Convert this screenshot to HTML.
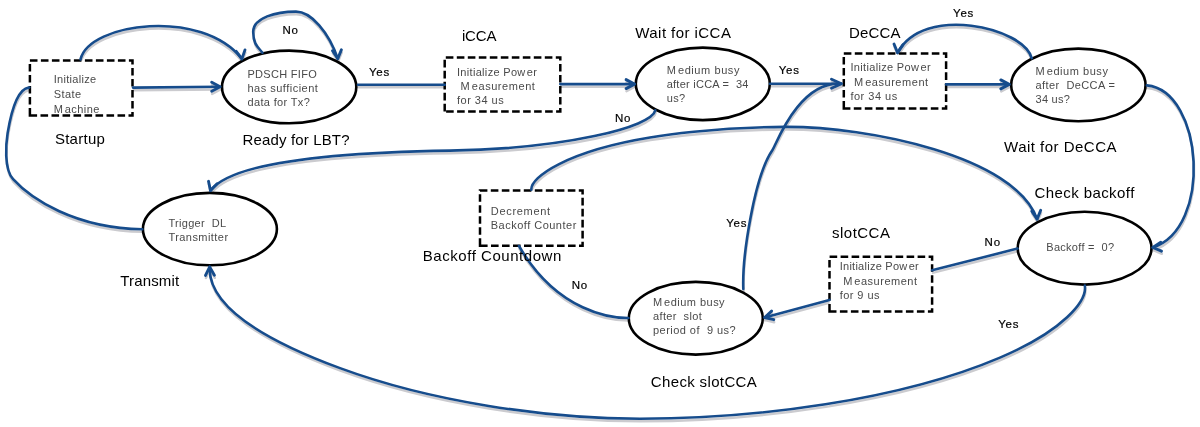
<!DOCTYPE html>
<html><head><meta charset="utf-8"><style>
html,body{margin:0;padding:0;background:#fff;width:1200px;height:427px;overflow:hidden}
svg{display:block}
text{font-family:"Liberation Sans",sans-serif;white-space:pre}
</style></head><body>
<svg width="1200" height="427" viewBox="0 0 1200 427">
<defs><filter id="bl" x="-5%" y="-5%" width="110%" height="110%"><feGaussianBlur stdDeviation="0.6"/></filter><filter id="gs" x="0" y="0" width="100%" height="100%"><feColorMatrix type="saturate" values="0"/></filter></defs>
<rect width="1200" height="427" fill="#fff"/>

<g fill="none" stroke="#cbcbcf" stroke-width="2.5" stroke-linecap="round" stroke-linejoin="round" transform="translate(0.4,2.6)" filter="url(#bl)">
<path d="M80.5,59.4 C89.1,22.5 202.1,8.1 241.9,58.9"/>
<path d="M236.2,51.3 L241.9,58.9 L245.0,49.9"/>
<path d="M133,87.6 L220,86.8"/>
<path d="M211.7,91.3 L220.1,86.8 L211.7,82.3"/>
<path d="M262.4,52.6 C258.4,47.4 253.4,45 253.2,32 C253,17.5 276.5,11.6 296,11.6 C311.2,11.6 328.8,32.4 337.8,58.6"/>
<path d="M332.5,50.7 L337.8,58.6 L341.4,49.8"/>
<path d="M358,84.7 L444.7,84.7"/>
<path d="M560.3,84.1 L634.5,84.1"/>
<path d="M626.1,88.6 L634.5,84.1 L626.1,79.6"/>
<path d="M770,83.7 L841,83.7"/>
<path d="M946.1,84.4 L1009.2,84.4"/>
<path d="M1000.8,88.9 L1009.2,84.4 L1000.8,79.9"/>
<path d="M1031.7,58.2 C1023.6,27.3 923.3,4.2 897.6,52.8"/>
<path d="M894.0,44.0 L897.6,52.8 L902.9,44.9"/>
<path d="M1146.9,85.4 C1203.9,91.2 1212.4,228.8 1152.8,247.5"/>
<path d="M1160.8,242.3 L1152.8,247.5 L1161.5,251.2"/>
<path d="M531.3,189.6 C530.6,177.2 566.6,151.2 650,137.5 C658.9,136 713.4,127.3 785,126.9 C868,126.5 1015.2,156.3 1037.1,219.1"/>
<path d="M1031.8,211.2 L1037.1,219.1 L1040.7,210.3"/>
<path d="M1017.5,248.6 L932.1,270.3"/>
<path d="M829.5,299.9 L764.6,317.5"/>
<path d="M771.6,311.1 L764.6,317.5 L773.8,319.7"/>
<path d="M743.3,289 C742.1,256.1 754.4,176 772.5,150 C775.8,145.3 798.8,80.9 841,83.7"/>
<path d="M831.5,88.2 L841.5,83.7 L831.5,79.2"/>
<path d="M628.4,318 C613.3,318.1 557.9,313.3 519,246"/>
<path d="M1084.8,285.5 C1087.5,300.9 1063.2,330.7 1000,357.6 C899,400.6 755.5,418.7 640,418.7 C545.8,418.7 430.5,401.5 340,368.1 C263.2,339.7 208,306.3 209.7,266.9"/>
<path d="M214.4,275.2 L209.7,266.9 L205.5,275.4"/>
<path d="M655.3,110.3 C652.3,127.1 564.5,148.8 450,150.6 C347.8,152.2 233.5,160 210.5,190.6"/>
<path d="M208.5,181.3 L210.5,190.6 L217.1,183.8"/>
<path d="M142.3,229.2 C74.5,228.4 30.3,198.2 13.1,179.2 C3.6,168.7 6.1,142.4 7.6,133.2 C15.4,85.8 27.4,88.1 29.3,87.5"/>
</g>
<ellipse cx="289.15" cy="86.95" rx="67.15" ry="36.35" fill="#fff" stroke="#000" stroke-width="2.6"/>
<ellipse cx="702.8" cy="83.85" rx="67.0" ry="36.25" fill="#fff" stroke="#000" stroke-width="2.6"/>
<ellipse cx="1078.35" cy="84.95" rx="67.2" ry="36.35" fill="#fff" stroke="#000" stroke-width="2.6"/>
<ellipse cx="1084.6" cy="248.2" rx="66.9" ry="36.4" fill="#fff" stroke="#000" stroke-width="2.6"/>
<ellipse cx="695.8" cy="318.25" rx="67.0" ry="36.35" fill="#fff" stroke="#000" stroke-width="2.6"/>
<ellipse cx="209.9" cy="229.1" rx="67.0" ry="36.2" fill="#fff" stroke="#000" stroke-width="2.6"/>
<path d="M29.9,115.5 V60.5 H132.5 V115.5 Z" fill="#fff" stroke="#000" stroke-width="2.5" stroke-dasharray="7.6 3.4" stroke-dashoffset="0"/>
<path d="M444.7,111.4 V57.5 H560.3 V111.4 Z" fill="#fff" stroke="#000" stroke-width="2.5" stroke-dasharray="7.6 3.4" stroke-dashoffset="0"/>
<path d="M843.8,108.6 V53.6 H946.1 V108.6 Z" fill="#fff" stroke="#000" stroke-width="2.5" stroke-dasharray="7.6 3.4" stroke-dashoffset="0"/>
<path d="M829.5,311.6 V256.7 H932.1 V311.6 Z" fill="#fff" stroke="#000" stroke-width="2.5" stroke-dasharray="7.6 3.4" stroke-dashoffset="0"/>
<path d="M480.0,245.8 V190.6 H582.6 V245.8 Z" fill="#fff" stroke="#000" stroke-width="2.5" stroke-dasharray="7.6 3.4" stroke-dashoffset="0"/>
<g fill="none" stroke="#164c8c" stroke-width="2.6" stroke-linecap="round" stroke-linejoin="round">
<path d="M80.5,59.4 C89.1,22.5 202.1,8.1 241.9,58.9"/>
<path d="M236.2,51.3 L241.9,58.9 L245.0,49.9" stroke-width="2.9"/>
<path d="M133,87.6 L220,86.8"/>
<path d="M211.7,91.3 L220.1,86.8 L211.7,82.3" stroke-width="2.9"/>
<path d="M262.4,52.6 C258.4,47.4 253.4,45 253.2,32 C253,17.5 276.5,11.6 296,11.6 C311.2,11.6 328.8,32.4 337.8,58.6"/>
<path d="M332.5,50.7 L337.8,58.6 L341.4,49.8" stroke-width="2.9"/>
<path d="M358,84.7 L444.7,84.7"/>
<path d="M560.3,84.1 L634.5,84.1"/>
<path d="M626.1,88.6 L634.5,84.1 L626.1,79.6" stroke-width="2.9"/>
<path d="M770,83.7 L841,83.7"/>
<path d="M946.1,84.4 L1009.2,84.4"/>
<path d="M1000.8,88.9 L1009.2,84.4 L1000.8,79.9" stroke-width="2.9"/>
<path d="M1031.7,58.2 C1023.6,27.3 923.3,4.2 897.6,52.8"/>
<path d="M894.0,44.0 L897.6,52.8 L902.9,44.9" stroke-width="2.9"/>
<path d="M1146.9,85.4 C1203.9,91.2 1212.4,228.8 1152.8,247.5"/>
<path d="M1160.8,242.3 L1152.8,247.5 L1161.5,251.2" stroke-width="2.9"/>
<path d="M531.3,189.6 C530.6,177.2 566.6,151.2 650,137.5 C658.9,136 713.4,127.3 785,126.9 C868,126.5 1015.2,156.3 1037.1,219.1"/>
<path d="M1031.8,211.2 L1037.1,219.1 L1040.7,210.3" stroke-width="2.9"/>
<path d="M1017.5,248.6 L932.1,270.3"/>
<path d="M829.5,299.9 L764.6,317.5"/>
<path d="M771.6,311.1 L764.6,317.5 L773.8,319.7" stroke-width="2.9"/>
<path d="M743.3,289 C742.1,256.1 754.4,176 772.5,150 C775.8,145.3 798.8,80.9 841,83.7"/>
<path d="M831.5,88.2 L841.5,83.7 L831.5,79.2" stroke-width="2.9"/>
<path d="M628.4,318 C613.3,318.1 557.9,313.3 519,246"/>
<path d="M1084.8,285.5 C1087.5,300.9 1063.2,330.7 1000,357.6 C899,400.6 755.5,418.7 640,418.7 C545.8,418.7 430.5,401.5 340,368.1 C263.2,339.7 208,306.3 209.7,266.9"/>
<path d="M214.4,275.2 L209.7,266.9 L205.5,275.4" stroke-width="2.9"/>
<path d="M655.3,110.3 C652.3,127.1 564.5,148.8 450,150.6 C347.8,152.2 233.5,160 210.5,190.6"/>
<path d="M208.5,181.3 L210.5,190.6 L217.1,183.8" stroke-width="2.9"/>
<path d="M142.3,229.2 C74.5,228.4 30.3,198.2 13.1,179.2 C3.6,168.7 6.1,142.4 7.6,133.2 C15.4,85.8 27.4,88.1 29.3,87.5"/>
</g>
<g filter="url(#gs)">
<text x="54.9" y="143.8" font-size="15" fill="#000" textLength="50" lengthAdjust="spacing">Startup</text>
<text x="242.5" y="145" font-size="15" fill="#000" textLength="107" lengthAdjust="spacing">Ready for LBT?</text>
<text x="461.9" y="40.9" font-size="15" fill="#000" textLength="34.5" lengthAdjust="spacing">iCCA</text>
<text x="635.3" y="37.6" font-size="15" fill="#000" textLength="95.6" lengthAdjust="spacing">Wait for iCCA</text>
<text x="849.1" y="37.8" font-size="15" fill="#000" textLength="51.5" lengthAdjust="spacing">DeCCA</text>
<text x="1004.1" y="152.3" font-size="15" fill="#000" textLength="112.4" lengthAdjust="spacing">Wait for DeCCA</text>
<text x="1034.4" y="197.7" font-size="15" fill="#000" textLength="99.9" lengthAdjust="spacing">Check backoff</text>
<text x="832.1" y="237.6" font-size="15" fill="#000" textLength="57.8" lengthAdjust="spacing">slotCCA</text>
<text x="422.8" y="260.6" font-size="15" fill="#000" textLength="138.5" lengthAdjust="spacing">Backoff Countdown</text>
<text x="120.2" y="286.1" font-size="15" fill="#000" textLength="59" lengthAdjust="spacing">Transmit</text>
<text x="650.8" y="386.8" font-size="15" fill="#000" textLength="106" lengthAdjust="spacing">Check slotCCA</text>
<text x="282.4" y="33.9" font-size="11.5" letter-spacing="0.8" fill="#000" stroke="#000" stroke-width="0.2">No</text>
<text x="368.9" y="75.9" font-size="11.5" letter-spacing="0.8" fill="#000" stroke="#000" stroke-width="0.2">Yes</text>
<text x="778.7" y="74.0" font-size="11.5" letter-spacing="0.8" fill="#000" stroke="#000" stroke-width="0.2">Yes</text>
<text x="953.0" y="16.8" font-size="11.5" letter-spacing="0.8" fill="#000" stroke="#000" stroke-width="0.2">Yes</text>
<text x="615.0" y="122.1" font-size="11.5" letter-spacing="0.8" fill="#000" stroke="#000" stroke-width="0.2">No</text>
<text x="984.6" y="245.7" font-size="11.5" letter-spacing="0.8" fill="#000" stroke="#000" stroke-width="0.2">No</text>
<text x="998.2" y="328.4" font-size="11.5" letter-spacing="0.8" fill="#000" stroke="#000" stroke-width="0.2">Yes</text>
<text x="571.7" y="289.2" font-size="11.5" letter-spacing="0.8" fill="#000" stroke="#000" stroke-width="0.2">No</text>
<text x="726.2" y="227.2" font-size="11.5" letter-spacing="0.8" fill="#000" stroke="#000" stroke-width="0.2">Yes</text>
<text x="53.7" y="83.3" font-size="11" fill="#4a4a4a" textLength="42.4" lengthAdjust="spacing">Initialize</text>
<text x="53.7" y="98.0" font-size="11" fill="#4a4a4a" textLength="27.4" lengthAdjust="spacing">State</text>
<text x="53.7" y="112.5" font-size="11" fill="#4a4a4a" textLength="45.7" lengthAdjust="spacing">M achine</text>
<text x="247.5" y="77.5" font-size="11" fill="#4a4a4a" textLength="69.2" lengthAdjust="spacing">PDSCH FIFO</text>
<text x="247.5" y="91.9" font-size="11" fill="#4a4a4a" textLength="70.4" lengthAdjust="spacing">has sufficient</text>
<text x="247.5" y="106.1" font-size="11" fill="#4a4a4a" textLength="62.3" lengthAdjust="spacing">data for Tx?</text>
<text x="457.0" y="75.6" font-size="11" fill="#4a4a4a" textLength="79.9" lengthAdjust="spacing">Initialize Pow er</text>
<text x="457.0" y="89.5" font-size="11" fill="#4a4a4a" textLength="77.9" lengthAdjust="spacing"> M easurement</text>
<text x="457.0" y="103.9" font-size="11" fill="#4a4a4a" textLength="46.7" lengthAdjust="spacing">for 34 us</text>
<text x="666.7" y="73.5" font-size="11" fill="#4a4a4a" textLength="72.7" lengthAdjust="spacing">M edium busy</text>
<text x="666.7" y="87.5" font-size="11" fill="#4a4a4a" textLength="81.7" lengthAdjust="spacing">after iCCA =  34</text>
<text x="666.7" y="101.6" font-size="11" fill="#4a4a4a" textLength="18.5" lengthAdjust="spacing">us?</text>
<text x="850.4" y="71.3" font-size="11" fill="#4a4a4a" textLength="80.2" lengthAdjust="spacing">Initialize Pow er</text>
<text x="850.4" y="85.5" font-size="11" fill="#4a4a4a" textLength="77.7" lengthAdjust="spacing"> M easurement</text>
<text x="850.4" y="99.8" font-size="11" fill="#4a4a4a" textLength="46.8" lengthAdjust="spacing">for 34 us</text>
<text x="1035.6" y="74.6" font-size="11" fill="#4a4a4a" textLength="72.3" lengthAdjust="spacing">M edium busy</text>
<text x="1035.6" y="88.7" font-size="11" fill="#4a4a4a" textLength="79.3" lengthAdjust="spacing">after  DeCCA =</text>
<text x="1035.6" y="103.1" font-size="11" fill="#4a4a4a" textLength="34.2" lengthAdjust="spacing">34 us?</text>
<text x="1046.3" y="250.7" font-size="11" fill="#4a4a4a" textLength="67.7" lengthAdjust="spacing">Backoff =  0?</text>
<text x="839.7" y="270.0" font-size="11" fill="#4a4a4a" textLength="79.0" lengthAdjust="spacing">Initialize Pow er</text>
<text x="839.7" y="284.9" font-size="11" fill="#4a4a4a" textLength="77.3" lengthAdjust="spacing"> M easurement</text>
<text x="839.7" y="299.2" font-size="11" fill="#4a4a4a" textLength="39.8" lengthAdjust="spacing">for 9 us</text>
<text x="653.0" y="305.5" font-size="11" fill="#4a4a4a" textLength="71.6" lengthAdjust="spacing">M edium busy</text>
<text x="653.0" y="319.9" font-size="11" fill="#4a4a4a" textLength="48.8" lengthAdjust="spacing">after  slot</text>
<text x="653.0" y="333.9" font-size="11" fill="#4a4a4a" textLength="82.7" lengthAdjust="spacing">period of  9 us?</text>
<text x="490.8" y="214.7" font-size="11" fill="#4a4a4a" textLength="59.3" lengthAdjust="spacing">Decrement</text>
<text x="490.8" y="228.6" font-size="11" fill="#4a4a4a" textLength="85.5" lengthAdjust="spacing">Backoff Counter</text>
<text x="168.4" y="226.7" font-size="11" fill="#4a4a4a" textLength="57.7" lengthAdjust="spacing">Trigger  DL</text>
<text x="168.4" y="240.8" font-size="11" fill="#4a4a4a" textLength="59.7" lengthAdjust="spacing">Transmitter</text>
</g>
</svg>
</body></html>
